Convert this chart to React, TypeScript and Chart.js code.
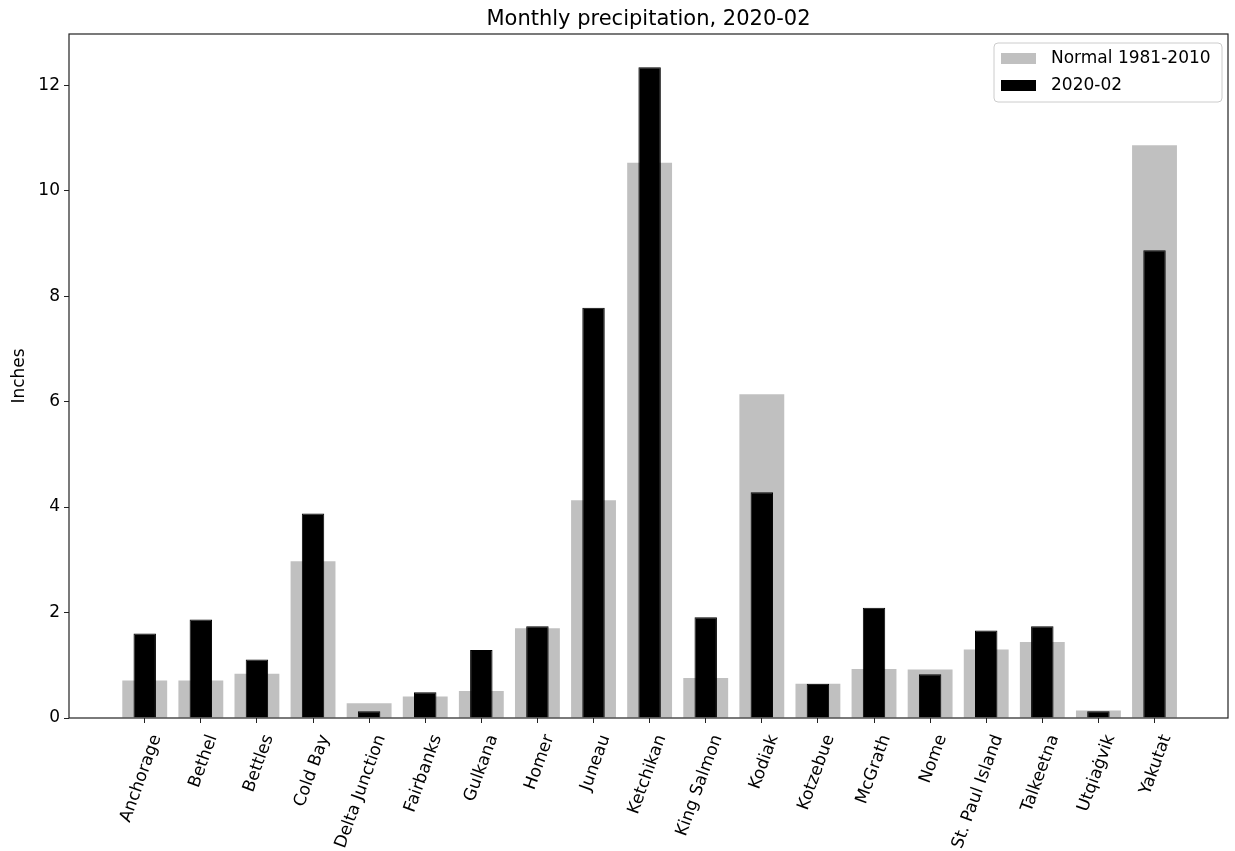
import React, { useEffect, useRef } from "react";
import { Chart, registerables } from "chart.js";

Chart.register(...registerables);

const stations = [
  "Anchorage", "Bethel", "Bettles", "Cold Bay", "Delta Junction", "Fairbanks",
  "Gulkana", "Homer", "Juneau", "Ketchikan", "King Salmon", "Kodiak",
  "Kotzebue", "McGrath", "Nome", "St. Paul Island", "Talkeetna", "Utqiaġvik", "Yakutat",
];
const normalValues = [0.71, 0.71, 0.84, 2.97, 0.28, 0.41, 0.51, 1.70, 4.13, 10.53, 0.76, 6.14, 0.65, 0.93, 0.92, 1.30, 1.44, 0.14, 10.86];
const monthValues = [1.60, 1.87, 1.11, 3.88, 0.13, 0.49, 1.29, 1.74, 7.78, 12.34, 1.91, 4.28, 0.65, 2.09, 0.83, 1.66, 1.74, 0.13, 8.87];
const yTicks = [0, 2, 4, 6, 8, 10, 12];
const titleText = "Monthly precipitation, 2020-02";
const yLabel = "Inches";
const normalLabel = "Normal 1981-2010";
const monthLabel = "2020-02";

const FONT = "'DejaVu Sans', sans-serif";

export default function App() {
  const ref = useRef<HTMLCanvasElement>(null);

  useEffect(() => {
    if (!ref.current) return;

    const decor = {
      id: "decor",
      afterDraw(chart: any) {
        const { ctx, chartArea: a } = chart;
        ctx.save();
        // frame
        ctx.strokeStyle = "#222";
        ctx.lineWidth = 1.2;
        ctx.strokeRect(a.left, a.top, a.right - a.left, a.bottom - a.top);
        // title
        ctx.fillStyle = "#000";
        ctx.font = `21px ${FONT}`;
        ctx.textAlign = "center";
        ctx.textBaseline = "alphabetic";
        ctx.fillText(titleText, (a.left + a.right) / 2, a.top - 9);
        // legend
        const boxRight = a.right - 6;
        const boxW = 228;
        const boxLeft = boxRight - boxW;
        const boxTop = a.top + 9;
        const boxH = 59;
        ctx.beginPath();
        (ctx as any).roundRect(boxLeft, boxTop, boxW, boxH, 4);
        ctx.fillStyle = "rgba(255,255,255,0.8)";
        ctx.fill();
        ctx.strokeStyle = "#cccccc";
        ctx.lineWidth = 1;
        ctx.stroke();
        const items = [
          { label: normalLabel, color: "#c0c0c0" },
          { label: monthLabel, color: "#000000" },
        ];
        ctx.font = `17px ${FONT}`;
        ctx.textAlign = "left";
        ctx.textBaseline = "middle";
        items.forEach((it, i) => {
          const cy = boxTop + 15.5 + i * 27;
          ctx.fillStyle = it.color;
          ctx.fillRect(boxLeft + 7, cy - 5.5, 35, 11);
          ctx.fillStyle = "#000";
          ctx.fillText(it.label, boxLeft + 57, cy);
        });
        ctx.restore();
      },
    };

    const chart = new Chart(ref.current, {
      type: "bar",
      data: {
        datasets: [
          {
            label: normalLabel,
            data: normalValues.map((v, i) => ({ x: i, y: v })),
            backgroundColor: "#c0c0c0",
            borderWidth: 0,
            barPercentage: 0.8,
            categoryPercentage: 1,
            grouped: false,
            order: 2,
          } as any,
          {
            label: monthLabel,
            data: monthValues.map((v, i) => ({ x: i, y: v })),
            backgroundColor: "#000000",
            borderColor: "#000000",
            borderWidth: 1,
            barPercentage: 0.4,
            categoryPercentage: 1,
            grouped: false,
            order: 1,
          } as any,
        ],
      },
      options: {
        animation: false,
        responsive: true,
        maintainAspectRatio: false,
        layout: { padding: { top: 34, right: 7, left: 0, bottom: 0 } },
        plugins: {
          legend: { display: false },
          title: { display: false },
          tooltip: { enabled: false },
        },
        scales: {
          x: {
            type: "linear",
            offset: false,
            min: -1.35,
            max: 19.31,
            afterBuildTicks: (s: any) => {
              s.ticks = stations.map((_, i) => ({ value: i }));
            },
            afterFit: (s: any) => {
              s.height = 133;
            },
            grid: {
              offset: false,
              drawOnChartArea: false,
              drawTicks: true,
              tickLength: 5,
              color: "#222",
              lineWidth: 1,
            },
            border: { display: false },
            ticks: {
              autoSkip: false,
              minRotation: 70,
              maxRotation: 70,
              padding: 9,
              labelOffset: 12,
              color: "#000",
              font: { family: FONT, size: 17 },
              callback: (v: any) => stations[Math.round(Number(v))] ?? "",
            },
          },
          y: {
            min: 0,
            max: 12.97,
            afterBuildTicks: (s: any) => {
              s.ticks = yTicks.map((v) => ({ value: v }));
            },
            afterFit: (s: any) => {
              s.width = 69;
            },
            grid: {
              drawOnChartArea: false,
              drawTicks: true,
              tickLength: 5,
              color: "#222",
              lineWidth: 1,
            },
            border: { display: false },
            ticks: {
              padding: 4,
              color: "#000",
              font: { family: FONT, size: 17 },
            },
            title: {
              display: true,
              text: yLabel,
              color: "#000",
              font: { family: FONT, size: 17 },
              padding: { top: 9, bottom: 0 },
            },
          },
        },
      } as any,
      plugins: [decor],
    });

    return () => chart.destroy();
  }, []);

  return (
    <div style={{ position: "absolute", left: 0, top: 0, width: 1235, height: 851 }}>
      <canvas ref={ref} />
    </div>
  );
}
